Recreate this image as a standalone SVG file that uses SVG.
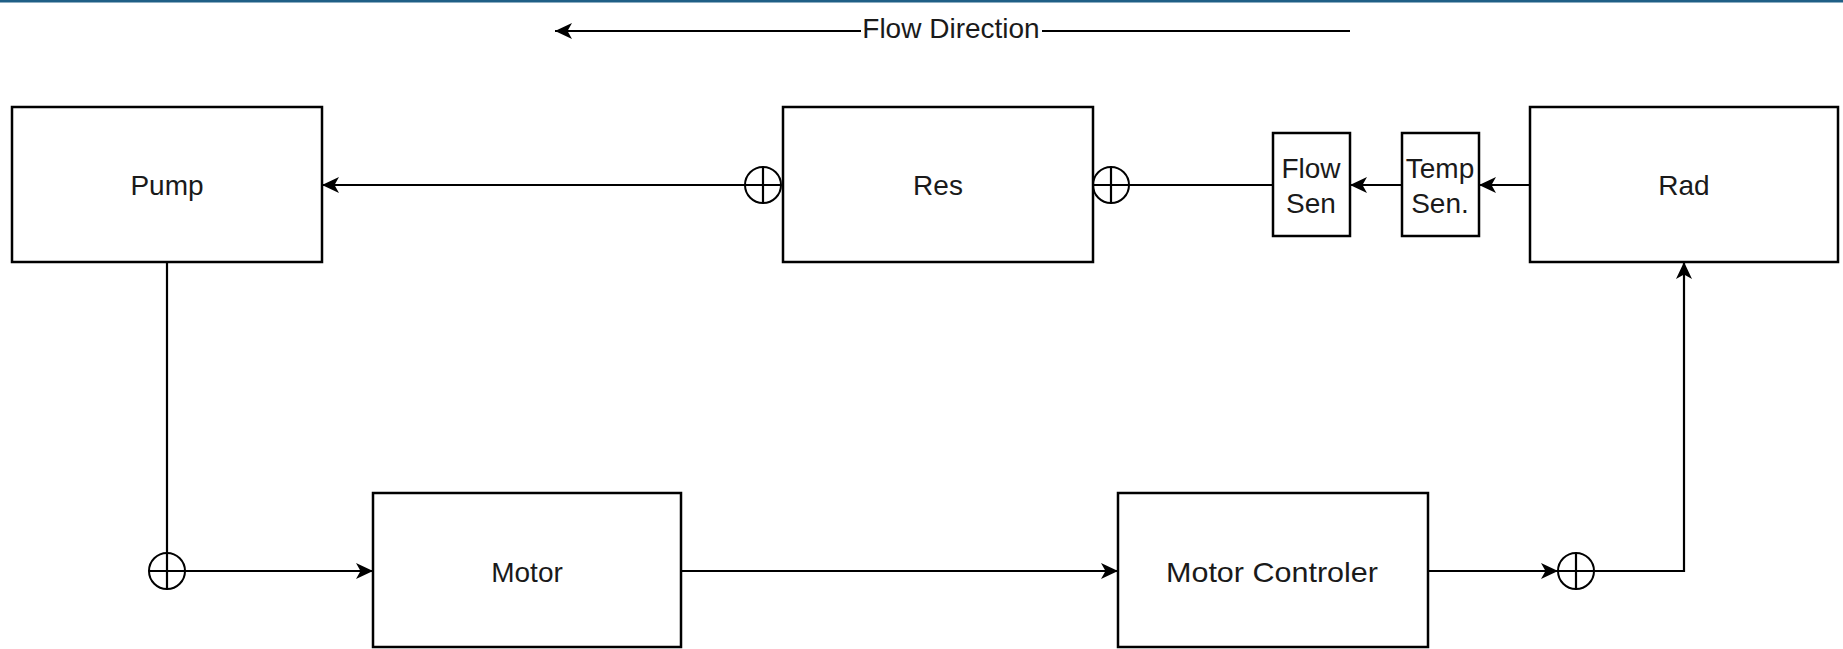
<svg xmlns="http://www.w3.org/2000/svg" width="1843" height="649" viewBox="0 0 1843 649">
  <defs>
    <marker id="arr" markerUnits="userSpaceOnUse" markerWidth="18" markerHeight="16" refX="17" refY="8" orient="auto">
      <path d="M0,0 L17,8 L0,16 L4.5,8 Z" fill="#000"/>
    </marker>
    <style>
      .box { fill: #fff; stroke: #000; stroke-width: 2.5; }
      .lbl { font-family: "Liberation Sans", Arial, sans-serif; font-size: 28px; fill: #1a1a1a; text-anchor: middle; }
      .ln { fill: none; stroke: #000; stroke-width: 2.2; }
      .sum { fill: #fff; stroke: #000; stroke-width: 2; }
    </style>
  </defs>
  <rect x="0" y="0" width="1843" height="649" fill="#fff"/>
  <rect x="0" y="0" width="1843" height="2.5" fill="#1f5f86"/>

  <g id="flow-direction">
    <line class="ln" x1="1350" y1="31" x2="1042" y2="31"/>
    <line class="ln" x1="861" y1="31" x2="555" y2="31" marker-end="url(#arr)"/>
    <text class="lbl" x="951" y="38">Flow Direction</text>
  </g>

  <g id="connectors">
    <line class="ln" x1="745" y1="185" x2="322" y2="185" marker-end="url(#arr)"/>
    <line class="ln" x1="1273" y1="185" x2="1129" y2="185"/>
    <line class="ln" x1="1402" y1="185" x2="1350" y2="185" marker-end="url(#arr)"/>
    <line class="ln" x1="1530" y1="185" x2="1479" y2="185" marker-end="url(#arr)"/>
    <line class="ln" x1="167" y1="262" x2="167" y2="553"/>
    <line class="ln" x1="185" y1="571" x2="373" y2="571" marker-end="url(#arr)"/>
    <line class="ln" x1="681" y1="571" x2="1118" y2="571" marker-end="url(#arr)"/>
    <line class="ln" x1="1428" y1="571" x2="1558" y2="571" marker-end="url(#arr)"/>
    <polyline class="ln" points="1594,571 1684,571 1684,262" marker-end="url(#arr)"/>
  </g>

  <g id="sum-res-left">
    <circle class="sum" cx="763" cy="185" r="18"/>
    <path class="ln" d="M745,185 H781 M763,167 V203" stroke-width="2"/>
  </g>
  <g id="sum-res-right">
    <circle class="sum" cx="1111" cy="185" r="18"/>
    <path class="ln" d="M1093,185 H1129 M1111,167 V203" stroke-width="2"/>
  </g>
  <g id="sum-pump">
    <circle class="sum" cx="167" cy="571" r="18"/>
    <path class="ln" d="M149,571 H185 M167,553 V589" stroke-width="2"/>
  </g>
  <g id="sum-rad">
    <circle class="sum" cx="1576" cy="571" r="18"/>
    <path class="ln" d="M1558,571 H1594 M1576,553 V589" stroke-width="2"/>
  </g>

  <g id="pump">
    <rect class="box" x="12" y="107" width="310" height="155"/>
    <text class="lbl" x="167" y="195">Pump</text>
  </g>
  <g id="res">
    <rect class="box" x="783" y="107" width="310" height="155"/>
    <text class="lbl" x="938" y="195">Res</text>
  </g>
  <g id="flow-sen">
    <rect class="box" x="1273" y="133" width="77" height="103"/>
    <text class="lbl" x="1311" y="178">Flow</text>
    <text class="lbl" x="1311" y="213">Sen</text>
  </g>
  <g id="temp-sen">
    <rect class="box" x="1402" y="133" width="77" height="103"/>
    <text class="lbl" x="1440" y="178">Temp</text>
    <text class="lbl" x="1440" y="213">Sen.</text>
  </g>
  <g id="rad">
    <rect class="box" x="1530" y="107" width="308" height="155"/>
    <text class="lbl" x="1684" y="195">Rad</text>
  </g>
  <g id="motor">
    <rect class="box" x="373" y="493" width="308" height="154"/>
    <text class="lbl" x="527" y="582">Motor</text>
  </g>
  <g id="motor-controler">
    <rect class="box" x="1118" y="493" width="310" height="154"/>
    <text class="lbl" x="1272" y="582" textLength="212" lengthAdjust="spacingAndGlyphs">Motor Controler</text>
  </g>
</svg>
